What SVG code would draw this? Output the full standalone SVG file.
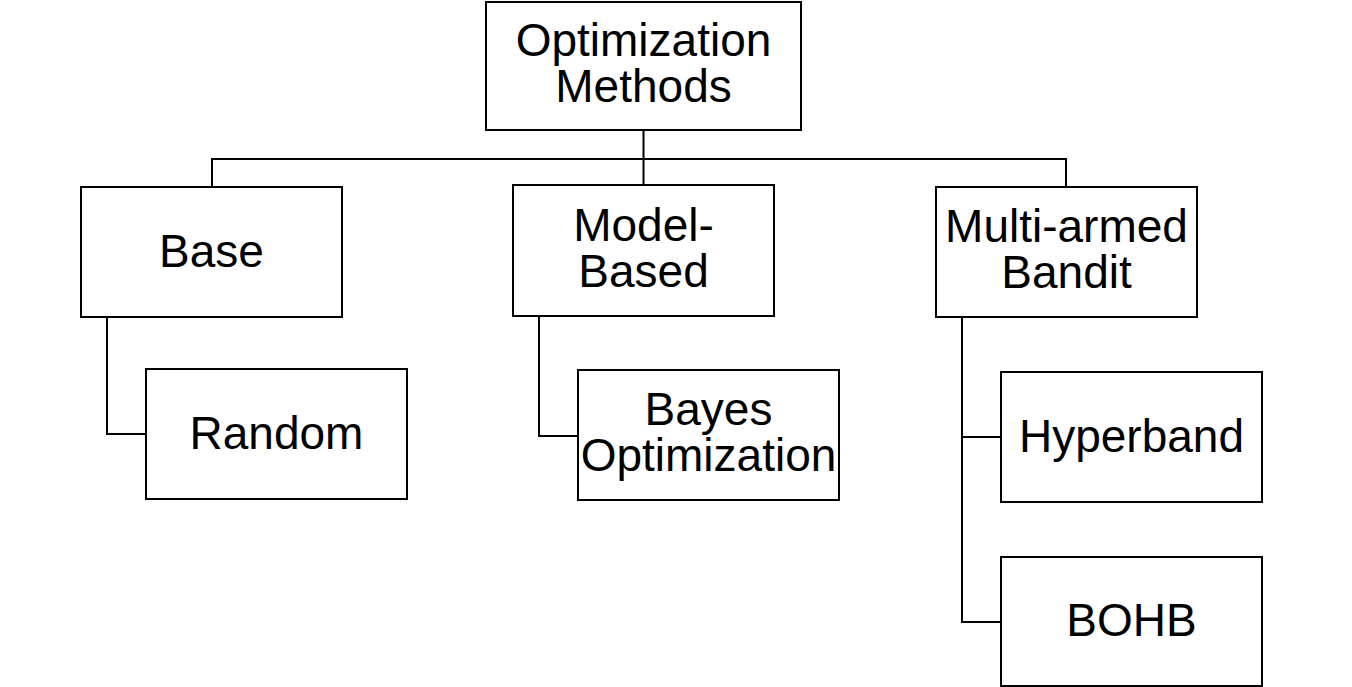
<svg xmlns="http://www.w3.org/2000/svg" width="1352" height="687" viewBox="0 0 1352 687">
<style>
.box{fill:#fff;stroke:#000;stroke-width:2}
.lbl{font-family:"Liberation Sans",Arial,sans-serif;font-size:46px;fill:#000;text-anchor:middle}
.edge{fill:none;stroke:#000;stroke-width:2}
</style>
<rect width="1352" height="687" fill="#fff"/>
<g id="connectors">
<path class="edge" d="M643.5 130 V184"/>
<path class="edge" d="M212 187 V159 H1066 V187"/>
<path class="edge" d="M107 317 V434 H146"/>
<path class="edge" d="M539 316 V436 H578"/>
<path class="edge" d="M962 317 V622 H1001"/>
<path class="edge" d="M962 437 H1001"/>
</g>
<g id="root"><rect class="box" x="486" y="2" width="315" height="128"/><text class="lbl" x="643.5" y="56">Optimization</text><text class="lbl" x="643.5" y="102">Methods</text></g>
<g id="base"><rect class="box" x="81" y="187" width="261" height="130"/><text class="lbl" x="211.5" y="267">Base</text></g>
<g id="model"><rect class="box" x="513" y="185" width="261" height="131"/><text class="lbl" x="643.5" y="241">Model-</text><text class="lbl" x="643.5" y="287">Based</text></g>
<g id="mab"><rect class="box" x="936" y="187" width="261" height="130"/><text class="lbl" x="1066.5" y="242">Multi-armed</text><text class="lbl" x="1066.5" y="288">Bandit</text></g>
<g id="random"><rect class="box" x="146" y="369" width="261" height="130"/><text class="lbl" x="276.5" y="449">Random</text></g>
<g id="bayes"><rect class="box" x="578" y="370" width="261" height="130"/><text class="lbl" x="708.5" y="425">Bayes</text><text class="lbl" x="708.5" y="471">Optimization</text></g>
<g id="hyperband"><rect class="box" x="1001" y="372" width="261" height="130"/><text class="lbl" x="1131.5" y="452">Hyperband</text></g>
<g id="bohb"><rect class="box" x="1001" y="557" width="261" height="129"/><text class="lbl" x="1131.5" y="636">BOHB</text></g>
</svg>
